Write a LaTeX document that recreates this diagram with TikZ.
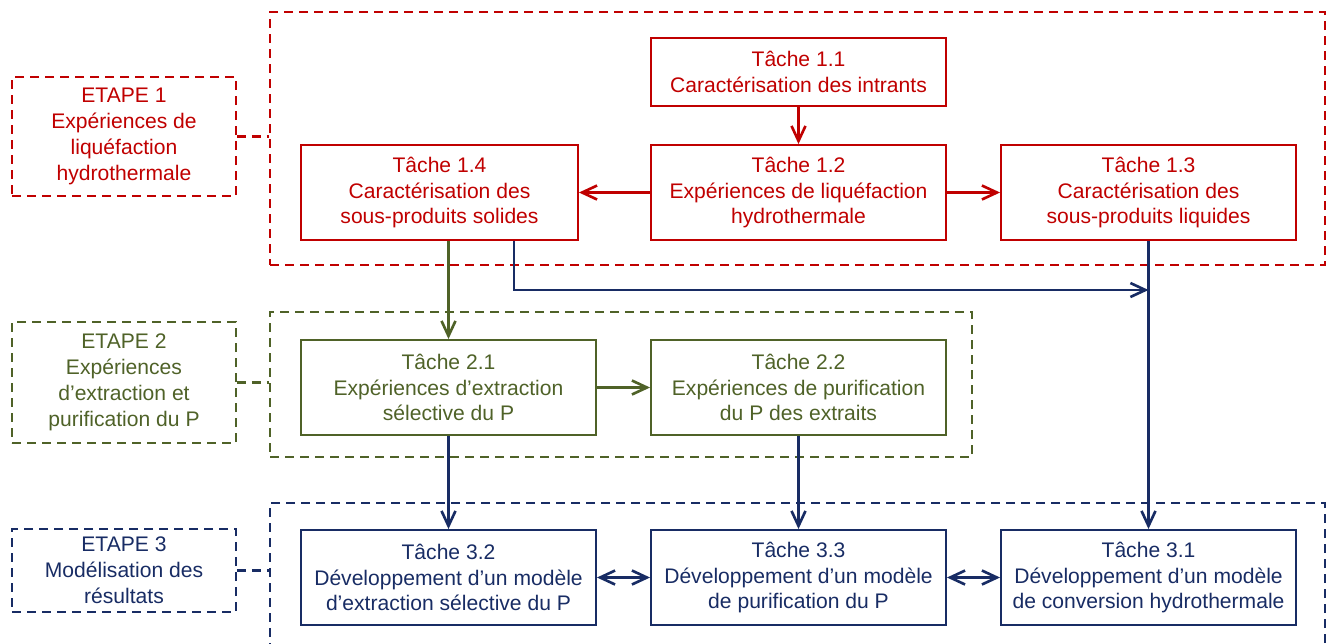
\documentclass[tikz,border=0pt]{standalone}
\usepackage{fontspec}
\setmainfont{Liberation Sans}
\usepackage{xcolor}
\usetikzlibrary{arrows.meta}
\definecolor{rouge}{RGB}{192,0,0}
\definecolor{vert}{RGB}{79,98,40}
\definecolor{marine}{RGB}{24,44,100}

\begin{document}
\begin{tikzpicture}[
        tache/.style = {draw, line width = 1.1pt, align = center, inner sep = 0pt,
            minimum width = 5.9cm, minimum height = 1.9cm,
            font = \fontsize{12}{14.7}\selectfont},
        etape/.style = {tache, dash pattern = on 1.8mm off 1.2mm,
            minimum width = 4.48cm},
        cadre/.style = {draw, line width = 1.1pt, dash pattern = on 1.8mm off 1.2mm,
            inner sep = 0pt},
        lien/.style = {line width = 1.5pt, dash pattern = on 1.8mm off 1.2mm},
        fleche/.style = {line width = 1.5pt, -{Straight Barb[length = 3mm, width = 2.8mm]}},
        dfleche/.style = {line width = 1.5pt, {Straight Barb[length = 3mm, width = 2.8mm]}-{Straight Barb[length = 3mm, width = 2.8mm]}}
    ]
        \useasboundingbox (0,0) rectangle (26.56,-12.86);

        % cadres
        \node[cadre, rouge, minimum width = 21.1cm, minimum height = 5.06cm] (c1) at (15.95,-2.77) {};
        \node[cadre, vert, minimum width = 14.04cm, minimum height = 2.9cm] (c2) at (12.42,-7.69) {};
        \node[cadre, marine, minimum width = 21.1cm, minimum height = 3.3cm] (c3) at (15.95,-11.71) {};

        % etapes
        \node[etape, rouge, minimum height = 2.38cm] (e1) at (2.48,-2.73) {ETAPE 1\\Expériences de\\liquéfaction\\hydrothermale};
        \node[etape, vert, minimum height = 2.42cm] (e2) at (2.48,-7.65) {ETAPE 2\\Expériences\\d’extraction et\\purification du P};
        \node[etape, marine, minimum height = 1.66cm] (e3) at (2.48,-11.41) {ETAPE 3\\Modélisation des\\résultats};
        \draw[lien, rouge] (e1.east) -- (e1.east -| c1.west);
        \draw[lien, vert] (e2.east) -- (e2.east -| c2.west);
        \draw[lien, marine] (e3.east) -- (e3.east -| c3.west);

        % etape 1
        \node[tache, rouge, minimum height = 1.36cm] (t11) at (15.97,-1.44) {Tâche 1.1\\Caractérisation des intrants};
        \node[tache, rouge] (t12) at (15.97,-3.85) {Tâche 1.2\\Expériences de liquéfaction\\hydrothermale};
        \node[tache, rouge, minimum width = 5.54cm] (t14) at (8.79,-3.85) {Tâche 1.4\\Caractérisation des\\sous-produits solides};
        \node[tache, rouge] (t13) at (22.97,-3.85) {Tâche 1.3\\Caractérisation des\\sous-produits liquides};
        \draw[fleche, rouge] (t11) -- (t12);
        \draw[fleche, rouge] (t12) -- (t14);
        \draw[fleche, rouge] (t12) -- (t13);

        % etape 2
        \node[tache, vert] (t21) at (8.97,-7.75) {Tâche 2.1\\Expériences d’extraction\\sélective du P};
        \node[tache, vert] (t22) at (15.97,-7.75) {Tâche 2.2\\Expériences de purification\\du P des extraits};
        \draw[fleche, vert] (t21) -- (t22);
        \draw[fleche, vert] (t14.south -| t21.north) -- (t21.north);

        % etape 3
        \node[tache, marine] (t32) at (8.97,-11.55) {Tâche 3.2\\Développement d’un modèle\\d’extraction sélective du P};
        \node[tache, marine] (t33) at (15.97,-11.55) {Tâche 3.3\\Développement d’un modèle\\de purification du P};
        \node[tache, marine] (t31) at (22.97,-11.55) {Tâche 3.1\\Développement d’un modèle\\de conversion hydrothermale};
        \draw[dfleche, marine] (t32) -- (t33);
        \draw[dfleche, marine] (t33) -- (t31);
        \draw[fleche, marine] (t21) -- (t32);
        \draw[fleche, marine] (t22) -- (t33);
        \draw[fleche, marine] (t13) -- (t31);
        \coordinate (b1) at (10.28,-5.8);
        \draw[fleche, marine] (t14.south -| b1) |- (b1 -| t13.south);
    \end{tikzpicture}
\end{document}
